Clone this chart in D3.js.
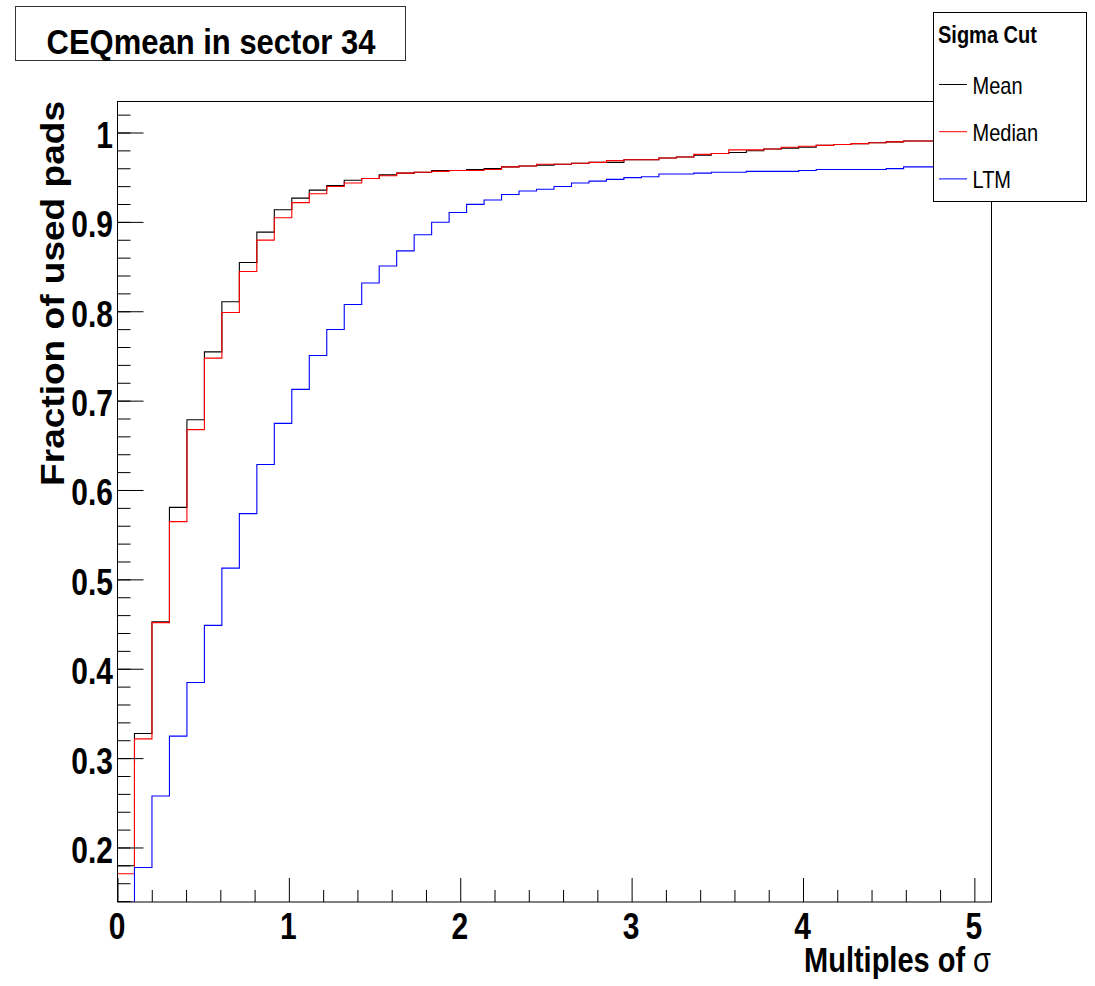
<!DOCTYPE html>
<html>
<head>
<meta charset="utf-8">
<script src="https://cdn.jsdelivr.net/npm/d3@7"></script>
<style>
body { margin: 0; background: #fff; }
text { font-family: "Liberation Sans", Arial, Helvetica, sans-serif; }
</style>
</head>
<body>
<script>
// Histogram binning: 50 bins from 0 to 5.1
var binWidth = 0.102;

// Fraction of used pads per bin
var mean = [0.179, 0.327, 0.452, 0.580, 0.678, 0.754, 0.810, 0.854, 0.888, 0.913,
            0.926, 0.935, 0.940, 0.946, 0.948, 0.952, 0.954, 0.955, 0.957, 0.957,
            0.958, 0.959, 0.961, 0.962, 0.963, 0.964, 0.965, 0.966, 0.966, 0.969,
            0.969, 0.971, 0.972, 0.974, 0.976, 0.977, 0.979, 0.981, 0.982, 0.983,
            0.985, 0.986, 0.987, 0.988, 0.989, 0.990, 0.990, 0.991, 0.992, 0.993];
var median = [0.170, 0.321, 0.451, 0.564, 0.667, 0.747, 0.798, 0.844, 0.879, 0.904,
              0.921, 0.931, 0.939, 0.943, 0.948, 0.951, 0.954, 0.955, 0.956, 0.957,
              0.957, 0.958, 0.961, 0.962, 0.964, 0.964, 0.965, 0.966, 0.968, 0.969,
              0.969, 0.971, 0.972, 0.975, 0.976, 0.980, 0.980, 0.981, 0.983, 0.984,
              0.985, 0.986, 0.987, 0.988, 0.989, 0.990, 0.990, 0.991, 0.992, 0.993];
var ltm = [0.120, 0.177, 0.257, 0.324, 0.384, 0.448, 0.512, 0.573, 0.628, 0.674,
           0.712, 0.750, 0.779, 0.807, 0.831, 0.850, 0.867, 0.885, 0.899, 0.910,
           0.919, 0.924, 0.930, 0.934, 0.936, 0.939, 0.943, 0.945, 0.947, 0.949,
           0.950, 0.953, 0.953, 0.954, 0.955, 0.955, 0.956, 0.956, 0.956, 0.957,
           0.958, 0.958, 0.958, 0.958, 0.959, 0.961, 0.961, 0.962, 0.962, 0.963];

var seriesNames = ["Mean", "Median", "LTM"];
var seriesColors = ["#000000", "#ff0000", "#0000ff"];
var seriesData = [mean, median, ltm];

var xTicks = [0, 1, 2, 3, 4, 5];
var xTickLabels = ["0", "1", "2", "3", "4", "5"];
var yTicks = [0.2, 0.3, 0.4, 0.5, 0.6, 0.7, 0.8, 0.9, 1];
var yTickLabels = ["0.2", "0.3", "0.4", "0.5", "0.6", "0.7", "0.8", "0.9", "1"];

var width = 1095;
var height = 986;

var svg = d3.select("body")
            .append("svg")
            .attr("width", width)
            .attr("height", height);

// Scales
var x = d3.scaleLinear().domain([0, 5.1]).range([117, 991]);
var y = d3.scaleLinear().domain([0.139, 1.0347]).range([901.5, 101]).clamp(true);

svg.append("clipPath")
   .attr("id", "frame")
   .append("rect")
   .attr("x", x(0)).attr("y", y(1.0347))
   .attr("width", x(5.1) - x(0)).attr("height", y(0.139) - y(1.0347));

// Histograms as step lines
var line = d3.line()
             .x(function(d) { return x(d[0]); })
             .y(function(d) { return y(d[1]); })
             .curve(d3.curveStepAfter);

seriesData.forEach(function(vals, i) {
  var pts = vals.map(function(v, k) { return [k * binWidth, v]; });
  pts.push([vals.length * binWidth, vals[vals.length - 1]]);
  svg.append("path")
     .attr("clip-path", "url(#frame)")
     .attr("d", line(pts))
     .attr("fill", "none")
     .attr("stroke", seriesColors[i])
     .attr("stroke-width", 1.1);
});

// Frame
svg.append("rect")
   .attr("x", x(0) + 0.5).attr("y", y(1.0347) + 0.5)
   .attr("width", x(5.1) - x(0)).attr("height", y(0.139) - y(1.0347))
   .attr("fill", "none")
   .attr("stroke", "#000");

// Ticks (drawn inside the frame, ROOT style)
var xMinor = d3.range(0, 5.1, 0.2).filter(function(v) { return Math.abs(v - Math.round(v)) > 0.01; });
var yMinor = d3.range(0.14, 1.03, 0.02);

function tickGroup(axis) {
  var g = svg.append("g").call(axis);
  g.select(".domain").remove();
  g.selectAll("line").attr("stroke", "#000");
  return g;
}
tickGroup(d3.axisBottom(x).tickValues(xTicks).tickSize(-24).tickFormat(""))
  .attr("transform", "translate(0.5," + (y(0.139) + 0.5) + ")");
tickGroup(d3.axisBottom(x).tickValues(xMinor).tickSize(-12).tickFormat(""))
  .attr("transform", "translate(0.5," + (y(0.139) + 0.5) + ")");
tickGroup(d3.axisLeft(y).tickValues(yTicks).tickSize(-26).tickFormat(""))
  .attr("transform", "translate(" + (x(0) + 0.5) + ",0.5)");
tickGroup(d3.axisLeft(y).tickValues(yMinor).tickSize(-13).tickFormat(""))
  .attr("transform", "translate(" + (x(0) + 0.5) + ",0.5)");

// Tick labels
svg.selectAll(".xlab")
   .data(xTicks)
   .enter()
   .append("text")
   .attr("transform", function(d) { return "translate(" + x(d) + ",939) scale(1,1.2)"; })
   .attr("text-anchor", "middle")
   .style("font-size", "30px")
   .style("font-weight", "bold")
   .text(function(d, i) { return xTickLabels[i]; });

svg.selectAll(".ylab")
   .data(yTicks)
   .enter()
   .append("text")
   .attr("transform", function(d) { return "translate(113," + (y(d) + 16) + ") scale(1,1.2)"; })
   .attr("text-anchor", "end")
   .style("font-size", "30px")
   .style("font-weight", "bold")
   .text(function(d, i) { return yTickLabels[i]; });

// Axis titles
var xt = svg.append("text")
   .attr("transform", "translate(991,972) scale(1,1.2)")
   .attr("text-anchor", "end")
   .style("font-size", "29px")
   .style("font-weight", "bold");
xt.append("tspan").text("Multiples of ");
xt.append("tspan").style("font-weight", "normal").text("σ");

svg.append("text")
   .attr("transform", "translate(64,101) rotate(-90) scale(1.09,1)")
   .attr("text-anchor", "end")
   .style("font-size", "34px")
   .style("font-weight", "bold")
   .text("Fraction of used pads");

// Title box
svg.append("rect")
   .attr("x", 15.5).attr("y", 6.5)
   .attr("width", 390).attr("height", 54)
   .attr("fill", "#fff")
   .attr("stroke", "#333");
svg.append("text")
   .attr("transform", "translate(211,53.5) scale(1,1.15)")
   .attr("text-anchor", "middle")
   .style("font-size", "31px")
   .style("font-weight", "bold")
   .text("CEQmean in sector 34");

// Legend
var legend = svg.append("g");
legend.append("rect")
      .attr("x", 933.5).attr("y", 12.5)
      .attr("width", 153).attr("height", 189)
      .attr("fill", "#fff")
      .attr("stroke", "#000");
legend.append("text")
      .attr("transform", "translate(938,43) scale(1,1.15)")
      .style("font-size", "20px")
      .style("font-weight", "bold")
      .text("Sigma Cut");

var entries = legend.selectAll(".entry")
      .data(seriesNames)
      .enter()
      .append("g")
      .attr("transform", function(d, i) { return "translate(0," + (84 + i * 47.2) + ")"; });
entries.append("line")
       .attr("x1", 939).attr("x2", 967)
       .attr("y1", 0.5).attr("y2", 0.5)
       .attr("stroke", function(d, i) { return seriesColors[i]; });
entries.append("text")
       .attr("transform", "translate(972.5,10) scale(1,1.18)")
       .style("font-size", "20px")
       .text(function(d) { return d; });
</script>
</body>
</html>
